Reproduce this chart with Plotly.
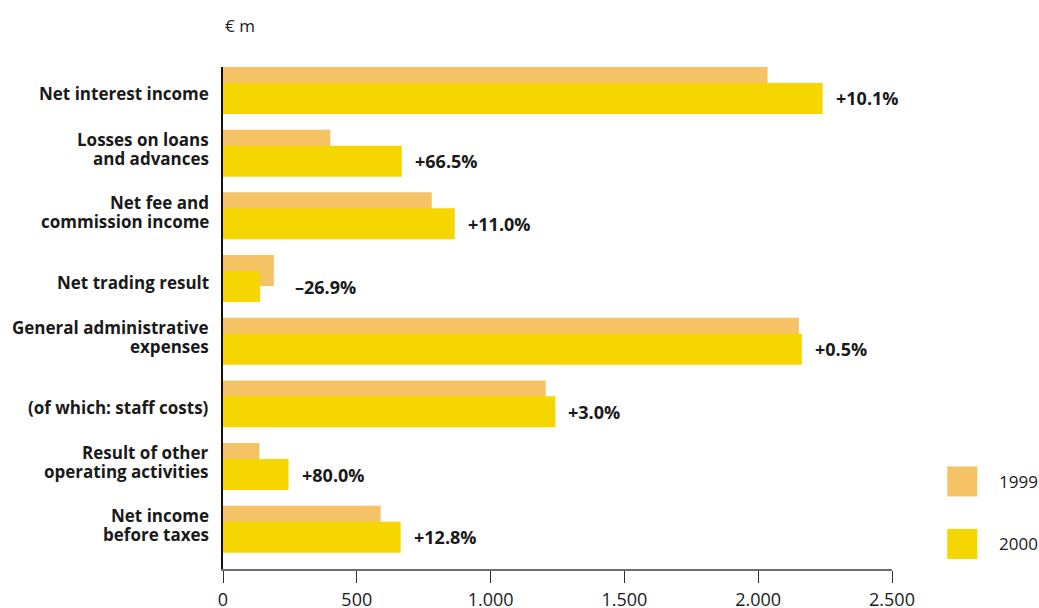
import plotly.graph_objects as go

# Income statement items, € m
categories = [
    "Net interest income",
    "Losses on loans<br>and advances",
    "Net fee and<br>commission income",
    "Net trading result",
    "General administrative<br>expenses",
    "(of which: staff costs)",
    "Result of other<br>operating activities",
    "Net income<br>before taxes",
]
values_1999 = [2035, 401, 780, 190, 2152, 1206, 136, 589]
values_2000 = [2241, 668, 866, 139, 2163, 1242, 245, 664]
change_labels = ["+10.1%", "+66.5%", "+11.0%", "\u201326.9%", "+0.5%", "+3.0%", "+80.0%", "+12.8%"]
series_names = ["1999", "2000"]
x_tick_values = [0, 500, 1000, 1500, 2000, 2500]
x_tick_labels = ["0", "500", "1.000", "1.500", "2.000", "2.500"]

COLOR_1999 = "#F5C366"
COLOR_2000 = "#F5D600"
TEXT = "#1a1a1a"
FONT = "Open Sans"

positions = list(range(len(categories)))
BAR_W = 0.494
SHIFT = 0.1276

fig = go.Figure()
fig.add_trace(go.Bar(
    y=positions, x=values_1999, orientation="h", name=series_names[0],
    marker=dict(color=COLOR_1999, line=dict(width=0)), opacity=1,
    width=BAR_W, offset=-SHIFT - BAR_W / 2, hoverinfo="x+name",
))
fig.add_trace(go.Bar(
    y=positions, x=values_2000, orientation="h", name=series_names[1],
    marker=dict(color=COLOR_2000, line=dict(width=0)), opacity=1,
    width=BAR_W, offset=SHIFT - BAR_W / 2, hoverinfo="x+name",
))

# category labels, one annotation per line for tight line spacing
for pos, cat in zip(positions, categories):
    lines = cat.split("<br>")
    shifts = [-3.5] if len(lines) == 1 else [13.7, -5.4]
    for line, ys in zip(lines, shifts):
        fig.add_annotation(
            x=0, y=pos, xref="paper", yref="y", text=line, showarrow=False,
            xanchor="right", yanchor="middle", xshift=-12, yshift=ys,
            font=dict(family=FONT, size=17, color=TEXT, weight="bold"),
        )

# percentage change labels, right of the longer bar
for pos, v99, v00, lab in zip(positions, values_1999, values_2000, change_labels):
    fig.add_annotation(
        x=max(v99, v00), y=pos + SHIFT, xref="x", yref="y",
        text=lab, showarrow=False, xanchor="left", yanchor="middle",
        xshift=11 if v00 >= v99 else 19,
        font=dict(family=FONT, size=18, color=TEXT, weight="bold"),
    )

# unit label
fig.add_annotation(
    x=0, y=1, xref="paper", yref="paper", text="\u20ac m", showarrow=False,
    xanchor="left", yanchor="bottom", xshift=0, yshift=28,
    font=dict(family=FONT, size=17, color=TEXT),
)

# legend swatches
for i, (name, color) in enumerate(zip(series_names, [COLOR_1999, COLOR_2000])):
    y0 = 0.1445 - i * 0.1245
    fig.add_shape(
        type="rect", xref="paper", yref="paper",
        x0=1.0826, x1=1.1275, y0=y0, y1=y0 + 0.0598,
        fillcolor=color, line=dict(width=0),
    )
    fig.add_annotation(
        x=1.1565, y=y0 + 0.03, xref="paper", yref="paper", text=name,
        showarrow=False, xanchor="left", yanchor="middle",
        font=dict(family=FONT, size=17, color=TEXT),
    )

fig.update_layout(
    width=1039, height=608,
    margin=dict(l=223, r=147, t=67, b=39, autoexpand=False),
    plot_bgcolor="white", paper_bgcolor="white",
    barmode="overlay", showlegend=False,
    font=dict(family=FONT, size=15, color=TEXT),
)
fig.update_xaxes(
    range=[0, 2500], tickvals=x_tick_values, ticktext=x_tick_labels,
    showgrid=False, zeroline=False,
    showline=True, linecolor="#6e6e6e", linewidth=2,
    ticks="outside", ticklen=12, tickwidth=1, tickcolor="#333333",
    ticklabelstandoff=1,
    tickfont=dict(family=FONT, size=18, color=TEXT),
)
fig.update_yaxes(
    range=[7.635, -0.3748], tickvals=positions, showticklabels=False,
    showgrid=False, zeroline=False,
    showline=True, linecolor="#111111", linewidth=1.5, ticks="",
)

fig.write_html("out.html")
